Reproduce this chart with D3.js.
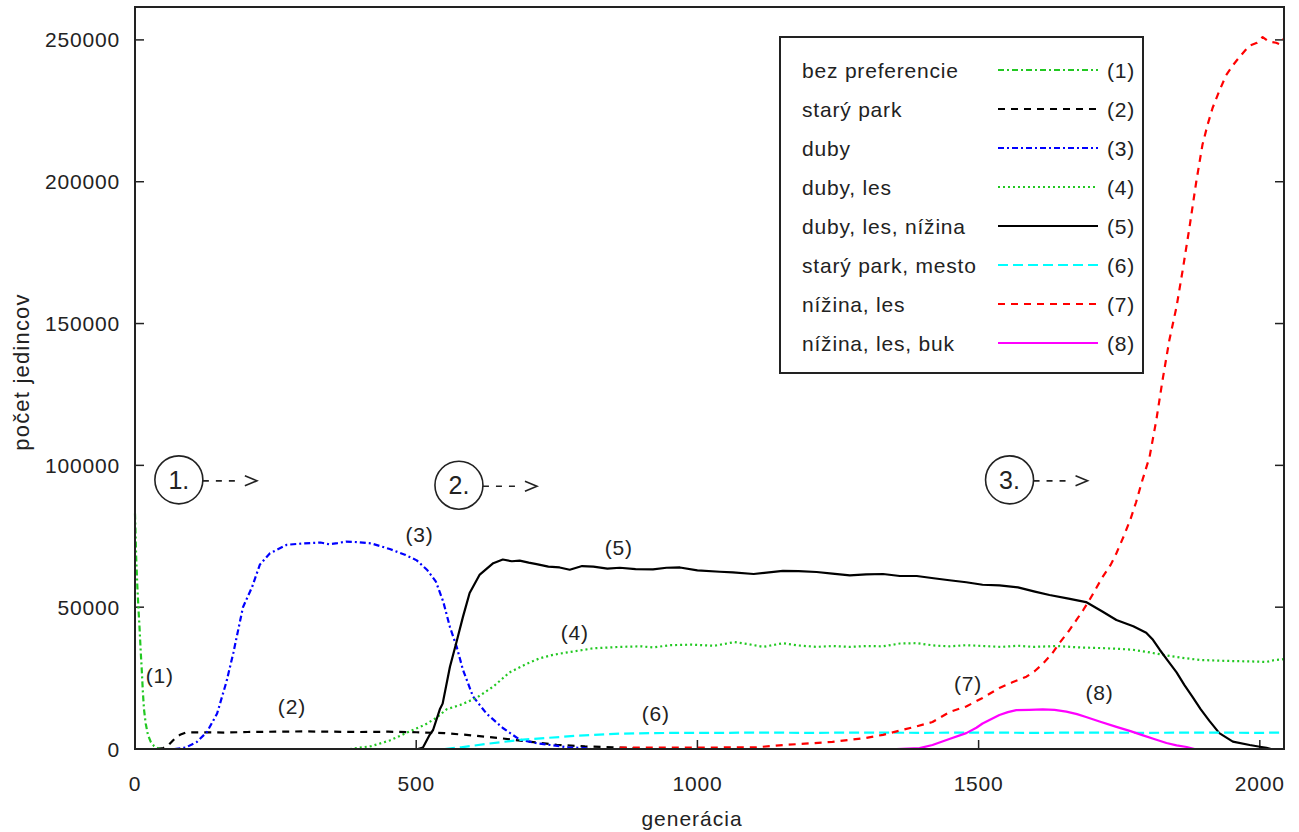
<!DOCTYPE html>
<html><head><meta charset="utf-8">
<script src="https://cdn.jsdelivr.net/npm/d3@7/dist/d3.min.js"></script>
<style>
html,body{margin:0;padding:0;background:#fff;}
text{font-family:"Liberation Sans",Arial,sans-serif;fill:#222;}
</style></head>
<body>
<svg id="c" width="1299" height="832"></svg>
<script>
// ---------- data ----------
const xTicks = [0, 500, 1000, 1500, 2000];
const yTicks = [0, 50000, 100000, 150000, 200000, 250000];
const xLabel = "generácia";
const yLabel = "počet jedincov";
const seriesNames = ["bez preferencie","starý park","duby","duby, les","duby, les, nížina","starý park, mesto","nížina, les","nížina, les, buk"];
const seriesTags = ["(1)","(2)","(3)","(4)","(5)","(6)","(7)","(8)"];

const s1 = [[0,83000],[1,76000],[2,68000],[4,58000],[6,50000],[8,43000],[10,35000],[12,28000],[14,20000],[16,14000],[19,9000],[23,5000],[28,2500],[34,1000],[40,300],[48,0],[60,0]];
const s2 = [[40,0],[50,300],[60,1500],[70,3500],[80,5000],[90,5800],[120,5900],[160,5800],[200,6000],[250,6100],[300,6200],[350,6100],[400,6000],[450,6100],[500,5900],[550,5600],[600,4800],[650,3800],[700,2600],[750,1500],[800,900],[850,600],[880,400],[900,0]];
const s3 = [[70,0],[90,500],[110,2500],[128,6000],[146,12500],[163,24000],[175,34000],[192,50000],[208,57000],[222,65000],[240,69000],[270,72000],[300,72500],[330,72800],[345,72200],[360,72600],[375,73100],[390,73000],[420,72500],[453,70500],[480,68500],[501,66500],[520,63000],[535,59000],[548,52000],[560,43000],[572,36000],[583,28000],[601,18500],[625,12500],[654,7400],[684,3300],[715,2000],[743,1300],[770,600],[800,300],[810,0]];
const s4 = [[382,0],[420,1000],[453,3000],[494,6700],[515,8500],[536,11000],[554,14000],[578,15500],[607,18000],[637,22000],[666,27000],[696,30000],[720,32000],[743,33200],[773,34200],[815,35500],[862,36000],[900,36200],[921,35800],[951,36600],[990,36800],[1030,36400],[1066,37700],[1090,37000],[1117,36000],[1152,37300],[1180,36500],[1212,36000],[1240,36300],[1271,36000],[1300,36300],[1330,36200],[1360,37200],[1390,37300],[1420,36500],[1448,36200],[1478,36600],[1510,36300],[1540,36000],[1570,36400],[1597,36000],[1640,36300],[1680,35800],[1715,35600],[1750,35300],[1774,35000],[1800,34200],[1834,33000],[1860,32200],[1893,31400],[1920,31200],[1952,31000],[1980,30900],[2012,30700],[2025,31300],[2043,31700]];
const s5 = [[503,0],[512,500],[524,5000],[530,6700],[542,14000],[547,16000],[560,29000],[572,38000],[583,46500],[595,55000],[613,61500],[637,65500],[654,66800],[670,66200],[684,66400],[700,65700],[714,65200],[735,64300],[755,64000],[773,63200],[795,64500],[815,64300],[840,63600],[862,63900],[890,63400],[921,63300],[945,63900],[969,64000],[1000,63000],[1040,62500],[1063,62300],[1100,61700],[1152,62800],[1180,62700],[1212,62400],[1240,61800],[1271,61200],[1300,61600],[1330,61700],[1360,61000],[1390,61000],[1420,60200],[1448,59500],[1478,58800],[1507,57900],[1537,57700],[1570,57000],[1600,55500],[1626,54300],[1660,53000],[1691,51800],[1720,48500],[1745,45500],[1775,43300],[1798,41000],[1810,38500],[1822,35000],[1837,31000],[1852,27000],[1866,22500],[1880,18500],[1895,14000],[1910,10000],[1928,5600],[1952,2600],[1982,1400],[2000,800],[2012,400],[2020,0]];
const s6 = [[551,0],[580,600],[625,1800],[654,2500],[684,3200],[710,3600],[732,3900],[760,4300],[785,4700],[815,5000],[862,5400],[915,5600],[980,5700],[1050,5700],[1100,5800],[1200,5700],[1300,5800],[1400,5700],[1500,5800],[1600,5700],[1700,5800],[1800,5700],[1900,5800],[2000,5700],[2043,5800]];
const s7 = [[862,500],[1000,500],[1105,600],[1152,1400],[1200,2000],[1240,2500],[1300,3900],[1330,5000],[1360,6500],[1390,8000],[1418,9500],[1448,13000],[1478,15000],[1507,18000],[1537,21500],[1560,23500],[1585,25500],[1600,27500],[1614,30000],[1630,33500],[1644,37400],[1660,41500],[1674,45500],[1686,49000],[1697,52500],[1710,57000],[1720,60500],[1735,65000],[1745,69000],[1758,75000],[1770,81000],[1780,87000],[1790,94000],[1804,103000],[1816,116000],[1827,130000],[1839,144000],[1852,156000],[1863,169000],[1875,184000],[1887,200000],[1898,213000],[1907,220000],[1916,226000],[1928,232000],[1940,237500],[1952,241000],[1964,244000],[1975,246500],[1982,248000],[1995,249000],[2005,251000],[2015,249500],[2029,249000],[2035,248500],[2043,250500]];
const s8 = [[1354,0],[1395,300],[1418,1400],[1448,3500],[1478,5600],[1496,7500],[1507,9000],[1522,10500],[1537,12000],[1552,13000],[1567,13700],[1590,13800],[1614,14000],[1635,13800],[1656,13200],[1675,12300],[1691,11300],[1715,9700],[1745,7800],[1770,6300],[1791,4900],[1812,3500],[1834,2100],[1852,1300],[1870,700],[1884,0]];
const allSeries = [s1,s2,s3,s4,s5,s6,s7,s8];

// in-plot tag positions [generation, value]
const tagPos = [[44,26000],[279,15000],[506,75500],[782,41000],[860,71000],[926,12700],[1481,23000],[1715,20000]];
// phase markers [generation, value, label]
const phases = [[78,94900,"1."],[576,93000,"2."],[1555,94900,"3."]];

// ---------- styles ----------
const colors = ["#22c822","#000000","#0000ff","#22c822","#000000","#00ffff","#ff0000","#ff00ff"];
const dashes = ["6,3,2,3","7,6","6,3,2,3","2,3",null,"10,5","7,6",null];

// ---------- layout ----------
const W = 1299, H = 832;
const m = {left:135, right:1284, top:7, bottom:749};
const svg = d3.select("#c");
svg.append("rect").attr("width",W).attr("height",H).attr("fill","#fff");

const x = d3.scaleLinear().domain([0,2043]).range([m.left,m.right]);
const y = d3.scaleLinear().domain([0,261600]).range([m.bottom,m.top]);

const FS = 21, LS = "0.8px";

// ticks (inward, mirrored on right)
const tk = 9;
const g = svg.append("g");
yTicks.forEach(v=>{
  g.append("line").attr("x1",m.left).attr("x2",m.left+tk).attr("y1",y(v)).attr("y2",y(v)).attr("stroke","#222").attr("stroke-width",1.5);
  g.append("line").attr("x1",m.right).attr("x2",m.right-tk).attr("y1",y(v)).attr("y2",y(v)).attr("stroke","#222").attr("stroke-width",1.5);
  g.append("text").attr("x",m.left-15).attr("y",y(v)).attr("dy","0.36em").attr("text-anchor","end")
   .attr("font-size",FS).attr("letter-spacing",LS).text(v);
});
xTicks.forEach(v=>{
  g.append("line").attr("x1",x(v)).attr("x2",x(v)).attr("y1",m.bottom).attr("y2",m.bottom-tk).attr("stroke","#222").attr("stroke-width",1.5);
  g.append("text").attr("x",x(v)).attr("y",m.bottom+42).attr("text-anchor","middle")
   .attr("font-size",FS).attr("letter-spacing",LS).text(v);
});

// axis titles
svg.append("text").attr("x",692).attr("y",826).attr("text-anchor","middle")
  .attr("font-size",FS).attr("letter-spacing","1px").text(xLabel);
svg.append("text").attr("transform",`translate(29,372) rotate(-90)`).attr("text-anchor","middle")
  .attr("font-size",22).attr("letter-spacing","1.2px").text(yLabel);

// series
const line = d3.line().x(d=>x(d[0])).y(d=>y(d[1]));
const plot = svg.append("g");
allSeries.forEach((s,i)=>{
  plot.append("path").attr("d",line(s)).attr("fill","none").attr("stroke",colors[i])
   .attr("stroke-width",2.2).attr("stroke-dasharray",dashes[i]).attr("stroke-linejoin","round");
});

// frame
svg.append("rect").attr("x",m.left).attr("y",m.top).attr("width",m.right-m.left).attr("height",m.bottom-m.top)
  .attr("fill","none").attr("stroke","#222").attr("stroke-width",2);

// tags
tagPos.forEach((p,i)=>{
  svg.append("text").attr("x",x(p[0])).attr("y",y(p[1])).attr("dy","0.36em").attr("text-anchor","middle")
   .attr("font-size",FS).attr("letter-spacing",LS).text(seriesTags[i]);
});

// phase markers
const R = 24;
phases.forEach(p=>{
  const cx = x(p[0]), cy = y(p[1]);
  svg.append("circle").attr("cx",cx).attr("cy",cy).attr("r",R).attr("fill","none").attr("stroke","#222").attr("stroke-width",1.6);
  svg.append("text").attr("x",cx).attr("y",cy).attr("dy","0.36em").attr("text-anchor","middle")
   .attr("font-size",25).text(p[2]);
  svg.append("line").attr("x1",cx+R).attr("x2",cx+R+33).attr("y1",cy+1).attr("y2",cy+1)
   .attr("stroke","#222").attr("stroke-width",1.6).attr("stroke-dasharray","6,7");
  svg.append("polyline").attr("points",`${cx+R+42},${cy-4} ${cx+R+54},${cy+1} ${cx+R+42},${cy+6}`)
   .attr("fill","none").attr("stroke","#222").attr("stroke-width",1.6);
});

// legend
const L = {x:780, y:37, w:363, h:336, row0:70, dy:39, tx:802, l1:998, l2:1098, tagx:1107};
svg.append("rect").attr("x",L.x).attr("y",L.y).attr("width",L.w).attr("height",L.h)
  .attr("fill","#fff").attr("stroke","#222").attr("stroke-width",2);
seriesNames.forEach((n,i)=>{
  const cy = L.row0 + i*L.dy;
  svg.append("text").attr("x",L.tx).attr("y",cy).attr("dy","0.36em").attr("font-size",FS).attr("letter-spacing",LS).text(n);
  svg.append("line").attr("x1",L.l1).attr("x2",L.l2).attr("y1",cy).attr("y2",cy)
   .attr("stroke",colors[i]).attr("stroke-width",2).attr("stroke-dasharray",dashes[i]);
  svg.append("text").attr("x",L.tagx).attr("y",cy).attr("dy","0.36em").attr("font-size",FS).attr("letter-spacing",LS).text(seriesTags[i]);
});
</script>
</body></html>
